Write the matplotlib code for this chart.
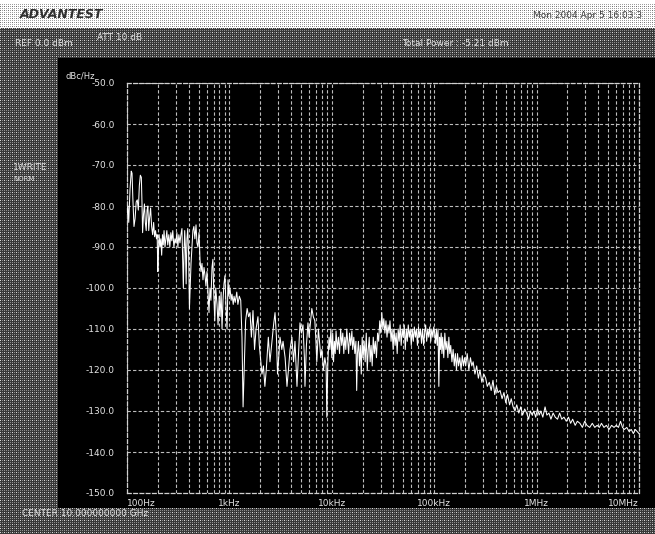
import numpy as np
import matplotlib
matplotlib.use("Agg")
import matplotlib.pyplot as plt
from matplotlib.ticker import FixedLocator, NullFormatter, LogLocator

# ---------------- data, one block per decade ----------------
freq_d1 = [
    100, 102, 104, 107, 110, 112, 114, 117, 120, 123, 126, 129, 132, 135, 138, 140, 142, 145, 148,
    151, 154, 157, 160, 163, 166, 170, 174, 178, 182, 186, 190, 194, 197, 200, 203, 206, 210, 214,
    218, 222, 226, 230, 235, 240, 245, 250, 256, 262, 268, 274, 280, 287, 294, 300, 307, 314, 321,
    329, 336, 344, 350, 355, 360, 366, 372, 378, 385, 392, 400, 407, 414, 422, 431, 440, 450, 460,
    472, 482, 493, 505, 516, 528, 540, 552, 565, 578, 590, 604, 618, 632, 646, 660, 676, 690, 705,
    720, 735, 757, 775, 795, 810, 830, 847, 866, 885, 905, 925, 948, 970, 990,
]
level_d1 = [
    -82, -80, -84, -76, -71.5, -72, -78, -85, -83, -79, -78.5, -81, -75, -72.5, -73, -79, -86.5, -82, -79.5,
    -84, -86, -81, -80, -86, -83, -80.5, -85, -87, -84, -87.5, -86, -88, -87, -96, -91, -87, -90, -88,
    -92, -87, -89.5, -86, -90, -88, -86, -89.5, -87, -90, -86.5, -88.5, -86, -90, -88, -89, -86.5, -90, -87,
    -89, -87, -85.5, -94, -100, -92, -86, -90, -99, -88, -85.5, -92, -105, -100, -94, -90, -86, -85, -88,
    -84.6, -89, -90, -86.5, -93, -96, -94, -98, -95, -97, -99.5, -96, -101, -106, -100, -103, -95, -93, -102,
    -108, -100, -104, -109, -102, -107, -101, -110, -103, -99, -97, -104, -110, -98, -102,
]
freq_d2 = [
    1013, 1040, 1060, 1090, 1110, 1140, 1180, 1210, 1250, 1290, 1327, 1360, 1400, 1440, 1490, 1540,
    1590, 1640, 1700, 1760, 1820, 1900, 1960, 2030, 2080, 2150, 2220, 2290, 2330, 2400, 2490, 2560,
    2700, 2790, 2880, 2950, 3050, 3120, 3250, 3340, 3500, 3650, 3800, 3910, 4080, 4230, 4370, 4570,
    4750, 4890, 5050, 5230, 5400, 5470, 5650, 5850, 6000, 6380, 6600, 6830, 7000, 7140, 7400, 7640,
    7800, 8000, 8300, 8550, 8800, 8940, 9150, 9400, 9570, 9800, 10000,
]
level_d2 = [
    -100, -103, -101.5, -104, -102, -103.5, -101, -104, -102, -103, -112, -129, -118, -108, -105, -107,
    -106, -112, -105.5, -115, -110, -107, -114, -118, -121, -119, -124, -120, -117, -112, -118, -115,
    -109, -106, -112, -121, -116, -112, -115, -113, -117, -124, -119, -115, -112, -118, -113, -124,
    -115, -108.5, -111, -109, -117, -124, -114, -108.5, -112, -105, -107, -108, -113, -118, -110, -114,
    -117, -115, -120, -117, -119, -131.5, -118, -112, -115, -110, -117,
]
freq_d3 = [
    10200, 10400, 10600, 10800, 11000, 11300, 11600, 11900, 12200, 12500,
    12800, 13100, 13400, 13700, 14000, 14300, 14600, 14900, 15300, 15700,
    16000, 16400, 16800, 17200, 17500, 17800, 18200, 18600, 19000, 19400,
    19800, 20200, 20700, 21200, 21700, 22200, 22700, 23200, 23700, 24200,
    24800, 25400, 26000, 26600, 27300, 28000, 28700, 29400, 30100, 30800,
    31500, 32200, 33000, 33800, 34600, 35400, 36200, 37000, 37900, 38800,
    39700, 40600, 41500, 42500, 43500, 44500, 45500, 46500, 47600, 48700,
    49800, 51000, 52200, 53400, 54600, 55800, 57100, 58400, 59700, 61100,
    62500, 64000, 65500, 67000, 68600, 70200, 71800, 73500, 75200, 77000,
    78800, 80600, 82500, 84400, 86400, 88400, 90500, 92600, 94700, 97000,
    99000,
]
level_d3 = [
    -111, -118, -113, -116, -110.5, -115, -112, -116, -110, -114,
    -111, -116, -112, -115, -110, -113, -116, -111, -114, -110.5,
    -115, -112, -116, -113, -125, -116, -113, -119, -114, -121,
    -112, -117, -113, -118, -111, -120, -115, -112, -118, -114,
    -119, -112, -116, -113, -117, -111, -113, -108, -111, -106,
    -110, -107.5, -111, -108, -112, -109, -111, -108, -113, -110,
    -115, -110, -114, -111, -116, -110, -113, -109, -114, -110,
    -112, -109, -115, -110, -113, -109, -112, -110, -114, -110,
    -113, -109.5, -112, -110, -114, -109.5, -112, -110, -113.5, -110,
    -114, -111, -109, -113, -110, -112, -109.5, -113, -110, -112,
    -109.5,
]
freq_d4 = [
    101000, 103000, 105000, 107000, 109000, 111000, 113000, 115000, 117000, 119000,
    121000, 124000, 127000, 130000, 133000, 136000, 139000, 142000, 145000, 149000,
    153000, 157000, 161000, 165000, 169000, 173000, 178000, 183000, 188000, 193000,
    198000, 203000, 210000, 218000, 226000, 233000, 240000, 250000, 260000, 270000,
    280000, 292000, 305000, 318000, 330000, 345000, 360000, 375000, 390000, 405000,
    420000, 440000, 460000, 480000, 500000, 520000, 545000, 565000, 590000, 615000,
    640000, 670000, 700000, 730000, 765000, 800000, 835000, 870000, 905000, 940000,
    980000,
]
level_d4 = [
    -111, -113.5, -110, -114, -110, -124, -112, -115, -111, -116,
    -112, -117, -111, -115, -113, -117, -112, -116, -114, -118,
    -115, -119, -116, -120, -116, -119, -117, -120, -116.5, -119,
    -117, -119, -116, -120, -117, -119, -118, -121, -119, -122,
    -120, -123, -121, -122, -124, -123, -125, -122.5, -126, -124,
    -125.5, -125, -127, -125.5, -128, -126, -128.5, -127, -129, -130,
    -128.5, -130.5, -129, -131, -129.5, -130.5, -132, -130, -131, -130,
    -131.5,
]
freq_d5 = [
    1020000, 1060000, 1100000, 1150000, 1210000, 1260000, 1320000, 1380000, 1450000, 1520000,
    1600000, 1680000, 1760000, 1850000, 1950000, 2050000, 2150000, 2250000, 2380000, 2500000,
    2650000, 2800000, 2950000, 3100000, 3300000, 3500000, 3700000, 3900000, 4100000, 4300000,
    4550000, 4800000, 5100000, 5400000, 5700000, 6000000, 6300000, 6600000, 6900000, 7200000,
    7600000, 8000000, 8400000, 8800000, 9200000, 9600000, 10000000,
]
level_d5 = [
    -129.5, -131, -130, -131.5, -129, -131, -130.5, -132, -130.5, -131.5,
    -132, -130.5, -132, -131.5, -132.5, -131.5, -133, -132, -133.5, -132.5,
    -133, -134, -132.5, -133.5, -134, -133, -134, -133.5, -134, -133,
    -134, -133.5, -134.5, -133.5, -134, -133.5, -134, -132.5, -134, -134.5,
    -134, -135, -134.5, -135.5, -134.5, -135, -135.5,
]

y_ticks = [-50, -60, -70, -80, -90, -100, -110, -120, -130, -140, -150]
y_tick_labels = ["-50.0", "-60.0", "-70.0", "-80.0", "-90.0", "-100.0",
                 "-110.0", "-120.0", "-130.0", "-140.0", "-150.0"]
x_ticks = [1e2, 1e3, 1e4, 1e5, 1e6, 1e7]
x_tick_labels = ["100Hz", "1kHz", "10kHz", "100kHz", "1MHz", "10MHz"]

freq_hz = freq_d1 + freq_d2 + freq_d3 + freq_d4 + freq_d5
level_dbc = level_d1 + level_d2 + level_d3 + level_d4 + level_d5
assert len(freq_hz) == len(level_dbc)

# ---------------- figure ----------------
W, H = 655, 534
DPI = 100
plt.rcParams["font.family"] = ["DejaVu Sans"]
fig = plt.figure(figsize=(W / DPI, H / DPI), dpi=DPI)

# dithered screen background (decoration)
ii, jj = np.indices((H, W))
bg = np.full((H, W), 0.22)
bg[(ii % 2 == 0) & (jj % 2 == 0)] = 0.55
bg[(ii % 4 == 0) & (jj % 4 == 0)] = 0.85
top = ii < 28
lt = np.full((H, W), 1.0)
lt[(ii % 2 == 0) & (jj % 2 == 0)] = 0.62
lt[(ii % 4 == 2) & (jj % 4 == 0)] = 0.45
bg[top] = lt[top]
bg[:3, :] = 1.0
bg[58:508, 58:] = 0.0
img = np.dstack([bg, bg, bg])
fig.figimage(img, xo=0, yo=0, origin="upper", zorder=-10)

# plot axes in pixel geometry
L, R, T, B = 127, 639, 83, 493
ax = fig.add_axes([L / W, 1 - B / H, (R - L) / W, (B - T) / H], zorder=5)
ax.set_facecolor("black")
ax.plot(freq_hz, level_dbc, color="white", lw=0.75, zorder=3)

ax.set_xscale("log")
ax.set_xlim(1e2, 1e7)
ax.set_ylim(-150, -50)
ax.xaxis.set_major_locator(FixedLocator(x_ticks))
ax.xaxis.set_minor_locator(LogLocator(base=10, subs=[2, 3, 4, 5, 6, 7, 8, 9]))
ax.xaxis.set_minor_formatter(NullFormatter())
ax.set_xticks(x_ticks)
ax.set_xticklabels(x_tick_labels)
ax.set_yticks(y_ticks)
ax.set_yticklabels(y_tick_labels)

gstyle = dict(color="#bdbdbd", linestyle=(0, (3, 2)), linewidth=0.8)
ax.grid(True, which="major", axis="both", **gstyle)
ax.grid(True, which="minor", axis="x", **gstyle)
for s in ax.spines.values():
    s.set_color("#d0d0d0")
    s.set_linestyle((0, (3, 2)))
    s.set_linewidth(0.9)

ax.tick_params(axis="both", which="both", length=0, colors="#e6e6e6", labelsize=6.5)
ax.tick_params(axis="y", pad=9)
ax.tick_params(axis="x", pad=4)
xl = ax.get_xticklabels()
xl[0].set_horizontalalignment("left")
xl[-1].set_horizontalalignment("right")

# ---------------- screen texts ----------------
def ptext(x, y, s, **kw):
    fig.text(x / W, 1 - y / H, s, va="center", zorder=10, **kw)

ptext(20, 15, "ADVANTEST", fontsize=9, fontweight="bold", fontstyle="italic", color="#303030")
ptext(533, 15, "Mon 2004 Apr 5 16:03:3", fontsize=6.5, color="#404040")
ptext(97, 37, "ATT 10 dB", fontsize=6.5, color="#e0e0e0")
ptext(15, 44, "REF 0.0 dBm", fontsize=6.5, color="#e0e0e0")
ptext(402, 43, "Total Power : -5.21 dBm", fontsize=6.5, color="#e0e0e0")
ptext(65, 76, "dBc/Hz", fontsize=6, color="#e6e6e6")
ptext(13, 168, "1WRITE", fontsize=6.5, color="#e0e0e0")
ptext(13, 179, "NORM", fontsize=5, color="#e0e0e0")
ptext(22, 514, "CENTER 10.000000000 GHz", fontsize=6.5, color="#e0e0e0")

fig.savefig("out.png", dpi=DPI, facecolor="black")
